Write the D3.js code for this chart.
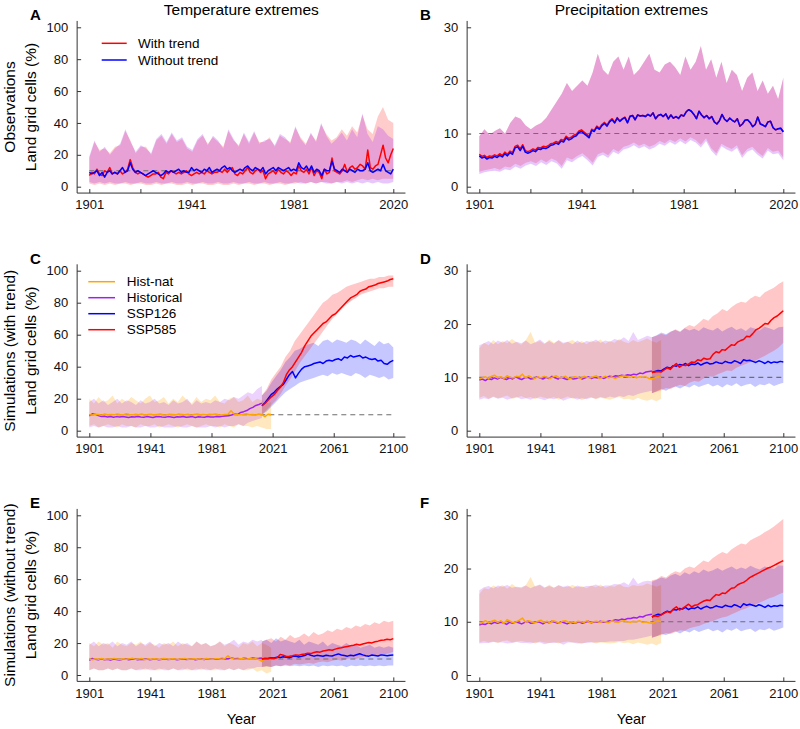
<!DOCTYPE html>
<html><head><meta charset="utf-8">
<script src="https://cdn.jsdelivr.net/npm/d3@7"></script>
<style>body{margin:0;background:#fff} text{font-family:"Liberation Sans", Arial, sans-serif;}</style>
</head><body><svg id="c" width="800" height="729"></svg>
<script>
// ---------- Tick labels ----------
const obsYearTicks = [1901, 1921, 1941, 1961, 1981, 2001, 2020];
const obsYearLabels = [1901, 1941, 1981, 2020];
const simYearTicks = [1901, 1941, 1981, 2021, 2061, 2100];
const tempTicks = [0, 20, 40, 60, 80, 100];
const precTicks = [0, 10, 20, 30];

// ---------- Panel A: observed temperature extremes (1901-2020) ----------
const tempObsWith = [7,9,8,11,8,7,10,9,12,8, 9,8,10,8,9,11,17,12,9,8, 9,8,7,6,7,8,8,9,6,5, 9,8,10,9,8,9,8,9,10,8,
  7,8,9,8,9,8,10,9,8,9, 9,10,9,11,9,11,12,8,7,9, 8,10,12,9,8,10,11,9,10,5, 8,9,10,8,11,9,8,10,9,7,
  9,8,13,10,9,11,8,12,7,10, 9,5,11,8,9,18,10,9,8,10, 14,9,12,13,11,12,14,13,11,23, 12,11,13,14,20,26,18,15,20,24];
const tempObsWithout = [9,8,9,10,7,9,6,9,10,8, 9,8,10,12,9,10,15,11,9,10, 9,8,7,8,9,10,9,8,7,8, 10,9,10,9,10,11,9,10,9,9,
  12,10,11,10,9,11,10,12,9,10, 11,10,12,13,11,12,10,9,10,11, 10,12,13,11,10,12,11,10,12,8, 10,11,12,10,12,11,10,11,12,10,
  11,10,15,12,11,13,10,13,9,11, 10,7,11,10,10,16,11,10,9,11, 10,9,11,10,9,11,10,10,11,15, 10,9,10,11,10,14,10,9,8,11];
const tempObsWithHi = [18,28,23,24,21,25,26,35,29,21, 25,25,20,29,32,27,33,28,30,24, 22,29,32,27,31,28,25,35,29,26,
  33,27,34,28,28,31,25,32,30,28, 37,31,27,33,29,39,33,29,31,36, 32,38,34,45,36,33,44,50,42,40];
const tempObsWithLo = [2,1,2,1,2,1,2,2,1,2, 2,1,1,2,1,2,2,1,1,2, 1,2,2,1,1,2,1,1,2,1,
  2,2,1,2,2,1,2,2,1,2, 2,3,2,3,2,3,3,2,3,3, 4,3,4,5,4,5,4,5,5,5];
const tempObsWithoutHi = [19,29,22,25,20,24,27,36,28,22, 26,24,21,30,33,28,34,29,31,25, 23,30,33,26,32,29,24,36,30,25,
  34,28,35,27,29,30,26,33,31,27, 38,30,26,34,28,40,32,27,30,34, 29,36,31,46,33,28,38,36,32,30];
const tempObsWithoutLo = [3,2,3,2,3,2,2,3,2,2, 3,2,2,3,2,2,3,2,2,3, 2,2,3,2,2,3,2,2,3,2,
  2,3,2,2,3,2,2,3,2,2, 3,2,2,3,2,3,2,2,3,2, 3,2,3,2,3,2,3,2,2,3];

// ---------- Panel B: observed precipitation extremes (1901-2020) ----------
const precObsWith = [6.1,5.7,5.9,5.5,5.8,5.7,6.0,5.8,6.2,5.9, 6.5,6.1,6.7,6.4,7.6,7.8,7.1,7.9,6.8,6.6,
  6.8,7.1,6.9,7.4,7.3,7.6,7.5,7.7,8.1,8.2, 8.5,8.3,8.9,8.7,9.5,9.1,9.3,9.7,9.9,10.5,
  10.7,10.3,9.9,9.5,10.8,10.6,11.4,11.0,11.7,12.1, 11.6,12.4,12.8,12.1,13.0,12.4,12.8,13.1,12.1,13.3,
  13.4,12.6,13.5,13.3,13.4,13.2,13.6,13.3,13.9,12.8, 13.4,13.6,13.2,13.7,12.7,13.5,12.9,13.2,12.8,13.5,
  13.3,14.1,14.5,14.2,13.6,12.8,14.2,13.5,13.0,13.4, 12.8,13.2,12.2,11.8,12.4,13.6,12.7,12.3,12.9,12.5,
  12.2,12.8,11.4,11.8,12.5,12.6,12.1,11.3,11.7,13.1, 11.8,11.6,11.3,12.2,12.3,11.1,10.7,10.9,11.0,10.4];
const precObsWithout = [5.8,5.4,5.6,5.2,5.5,5.4,5.7,5.5,5.9,5.6, 6.2,5.8,6.4,6.1,7.3,7.5,6.8,7.6,6.5,6.3,
  6.5,6.8,6.6,7.1,7.0,7.3,7.2,7.4,7.8,7.9, 8.2,8.0,8.6,8.4,9.2,8.8,9.0,9.4,9.6,10.2,
  10.4,10.0,9.6,9.2,10.6,10.4,11.2,10.8,11.5,11.9, 11.4,12.2,12.6,12.0,12.9,12.3,12.7,13.0,12.0,13.2,
  13.4,12.6,13.5,13.3,13.4,13.2,13.6,13.3,13.9,12.8, 13.4,13.6,13.2,13.7,12.8,13.5,12.9,13.2,12.9,13.5,
  13.3,14.1,14.5,14.2,13.6,12.8,14.2,13.5,13.0,13.4, 12.8,13.2,12.2,11.8,12.4,13.6,12.7,12.3,12.9,12.5,
  12.2,12.8,11.4,11.8,12.5,12.6,12.1,11.3,11.7,13.1, 11.8,11.6,11.3,12.2,12.3,11.1,10.7,10.9,11.0,10.3];
const precObsHi = [9.5,10.8,9.8,10.5,11,10,12,13.2,12.8,11.5, 10.8,11.5,12,13,14.5,16,17.5,19.5,18,19,
  20,19,21.5,25,22,21,23.5,24.5,22,24.5, 21,22,23.5,25,22,21.5,23,23.5,22.5,21,
  24.5,22,23.5,26.5,22,24,20.5,23.5,19.5,22, 21,18,20.5,21.5,18,20,17.5,19,16.5,20.5];
const precObsLo = [2.8,3.1,3.3,3.5,3.2,3.8,3.6,4.3,3.9,4.5, 4.8,4.4,5.1,4.6,5.3,4.9,3.9,5.5,5.1,5.8,
  6.3,5.5,4.5,6.1,6.5,5.9,7.1,6.6,7.5,7.8, 8.3,7.7,8.1,7.5,7.9,8.6,8.2,8.9,8.4,9.1,
  8.5,9.3,8.8,7.9,9.1,7.3,6.3,8.1,7.5,7.1, 7.8,5.9,7.1,7.5,6.5,5.8,7.3,6.6,6.8,5.5];
const precObsLo2 = [2.4,2.7,2.9,3.0,2.8,3.3,3.1,3.8,3.4,4.0, 4.3,3.9,4.6,4.1,4.8,4.4,3.4,5.0,4.6,5.3,
  5.8,5.0,4.0,5.6,6.0,5.4,6.6,6.1,7.0,7.3, 7.8,7.2,7.6,7.0,7.4,8.1,7.7,8.4,7.9,8.6,
  8.0,8.8,8.3,7.4,8.6,6.8,5.8,7.6,7.0,6.6, 7.3,5.4,6.6,7.0,6.0,5.3,6.8,6.1,6.3,5.0];

// ---------- Panel C: simulated temperature extremes, with trend ----------
const tempSimHistNat = [10,9.8,10.3,10.1,9.7,10.4,10,10.2,9.9,10.5, 10.1,9.8,10.6,10.2,9.9,10.3,10,10.4,9.8,10.1,
  10.3,9.9,10.2,10.5,10,9.8,10.3,10.1,9.9,10.4, 10.2,10,10.3,9.7,10.1,10.4,10,10.2,9.9,10.3,
  10.1,10.5,10,9.8,10.2,10.3,12.5,10.4,10.1,9.9, 10.3,10.6,10,10.2,9.8,10.4,10.1,8.8,10.3,10.2];
const tempSimHist = [9.2,10.6,10.2,9.4,8.8,9.0,8.6,8.9,8.4,8.8, 8.5,8.9,8.6,8.3,8.7,8.5,8.9,8.6,8.4,8.8,
  8.6,8.3,8.7,8.9,8.5,8.4,8.8,8.6,8.3,8.7, 8.5,8.9,8.4,8.6,8.8,8.3,8.7,8.5,8.4,8.9,
  8.6,8.5,8.8,8.7,9.0,9.2,9.4,9.8,10.6,10.2, 11.4,11.9,12.6,13.8,14.6,15.8,16.4,17.2];
const tempSimSsp585 = [15.6,17,19,21,22.5,25,27,30,35,38, 40,43,46,49,53,56,59,61,63,65,
  67,68,70,72,73,75,77,79,81,83, 84,85,87,88,88.5,90,90.5,91,92,92.5, 93,93.5,94.5,95];
const tempSimSsp126 = [15.6,17.5,20,22.5,24,26,27.5,29,32,35, 37,33,36,38.5,40,40.5,41,42,42.5,43,
  42,43.5,44,43.5,44.5,45,44,46,45.5,47, 46,46.5,47,45.5,46,45,44.5,45,43.5,44, 42,41.5,43,44];
const tempSimHistNatHi = [20,17,21,18,19,22,17,20,18,21, 19,17,20,22,18,19,21,17,20,18,
  22,19,17,21,18,20,19,22,18,17, 20,21,18,19,22,18,20,19,17,18];
const tempSimHistNatLo = [3,4,2,3,4,3,2,4,3,3, 2,4,3,3,4,2,3,4,3,2, 3,4,3,2,3,4,3,3,2,4, 3,2,4,3,3,2,3,2,1,1];
const tempSimHistHi = [18,20,17,19,16,18,20,17,19,18, 16,19,17,18,20,17,18,16,19,17,
  18,20,16,19,17,18,17,19,18,20, 19,21,20,22,24,23,26,28];
const tempSimHistLo = [2,3,2,3,2,2,3,2,2,3, 2,2,3,2,2,3,2,2,2,3, 2,2,3,2,2,2,3,2,3,2, 3,3,4,3,5,6,7,8];
const tempSimSsp585Hi = [22,26,32,36,40,46,50,56,60,64,68,72,76,80,82,85,86,88,90,91,92,93,94,95,95,96,96,97,97];
const tempSimSsp585Lo = [10,13,16,19,23,28,32,37,42,46,50,54,58,62,66,70,73,76,79,81,83,85,86,87,88,89,89,90,90];
const tempSimSsp126Hi = [22,25,30,34,38,43,46,50,51,53,54,55,53,56,57,55,57,56,55,57,56,54,57,55,53,56,54,55,52];
const tempSimSsp126Lo = [10,12,15,18,21,24,26,28,30,31,32,33,34,35,34,36,35,36,35,34,36,35,33,35,34,33,34,32,33];

// ---------- Panel D: simulated precipitation extremes, with trend ----------
const precSimHistNat = [9.7,9.9,10.1,9.8,10.2,10.4,9.9,10.1,9.8,10.3, 10.0,9.9,10.2,10.1,10.6,9.9,10.3,10.0,9.8,10.1,
  9.9,10.2,10.0,9.8,10.1,10.3,9.9,10.0,10.2,9.7, 9.9,10.1,10.0,9.8,10.2,10.0,9.9,10.1,10.3,9.8,
  10.0,10.2,9.9,10.1,9.8,10.0,10.2,10.3,10.1,10.0, 10.2,9.9,10.1,10.0,10.1,9.8,9.7,9.9,10.1,10.0];
const precSimHist = [9.5,9.7,9.4,9.8,9.6,9.9,9.7,10.0,9.8,9.6, 9.9,9.7,10.1,9.8,9.6,9.9,10.0,9.7,9.8,10.1,
  9.9,9.7,10.0,9.8,10.2,9.9,9.7,10.0,9.8,9.6, 9.9,9.7,9.8,10.0,9.7,9.9,10.1,9.8,10.0,9.9,
  10.1,9.8,10.0,10.2,10.1,10.3,10.2,10.4,10.3,10.5, 10.4,10.6,10.5,10.8,10.7,11.0,11.1,11.2];
const precSimSsp585 = [10.9,11.0,11.1,11.0,11.4,11.8,11.5,12.1,12.6,11.9, 12.3,12.2,12.5,12.9,12.8,13.3,13.1,13.6,13.4,13.5,
  14.3,14.8,14.6,15.2,15.1,15.6,16.1,16.0,16.6,16.9, 17.1,17.7,17.6,18.2,18.9,19.2,19.6,20.1,20.0,20.7, 21.2,21.5,22.0,22.5];
const precSimSsp126 = [10.9,11.1,11.3,11.2,11.6,11.9,11.7,12.2,12.1,12.4, 12.3,12.6,12.2,12.5,12.4,12.7,12.3,12.6,12.8,12.5,
  12.6,12.9,12.7,12.6,13.0,12.8,12.7,13.1,12.9,12.6, 13.3,13.1,13.2,13.0,12.8,13.1,12.9,12.6,13.0,12.7, 12.9,12.8,13.0,12.9];
const precSimHistNatHi = [15.5,16.5,16,17,16.2,16.8,16.4,17.2,16.6,16.1, 17,18.5,16.5,16.8,16.2,17.1,16.5,16.9,16.3,16.7,
  17,16.4,16.8,16.2,16.9,16.6,17.1,16.3,16.8,16.5, 17.2,16.7,16.4,17,16.6,16.9,17.3,16.8,16.5,17];
const precSimHistNatLo = [6.2,6.5,6,6.4,6.1,6.3,6.6,6,6.2,6.5, 6.1,6.3,5.9,6.4,6.2,6,6.3,5.8,6.1,6.4,
  6,6.2,5.7,6.1,6.3,5.9,6.2,6,5.8,6.1, 6.3,5.9,6,5.7,6.2,5.8,5.6,5.9,5.5,6];
const precSimHistHi = [16,16.4,16.8,16.2,16.9,16.5,17,16.3,16.7,16.4, 16.9,16.2,16.6,17.1,16.4,16.8,16.3,17,16.5,16.7,
  16.2,16.9,16.4,16.8,16.6,17.1,16.5,16.9,16.7,17.2, 16.9,17.5,16.8,18.5,17,17.4,17.8,17.5];
const precSimHistLo = [5.8,6.1,5.9,6.3,6,6.2,5.8,6.1,6.3,5.9, 6.1,5.8,6.2,6,5.7,6.1,5.9,6.2,5.6,6,
  6.2,5.8,6.1,5.9,6.2,6,6.3,6.1,6.4,6.2, 6.5,6.3,6.7,6.5,6.9,7.1,7.3,7.5];
const precSimSsp585Hi = [17.5,17.8,18.2,17.9,18.5,19,18.6,19.3,19.8,19.5,20.2,21,20.6,21.5,22,22.8,22.4,23.2,23.8,24.2,24,24.8,25.3,25,25.9,26.4,26.8,27.5,28];
const precSimSsp585Lo = [7,7.3,7.6,8,7.8,8.3,8.6,8.4,9,9.3,9.2,9.8,10.2,10.1,10.6,10.9,11.3,11.2,11.8,12.2,12.5,12.9,13.1,13.6,14,14.5,15,15.6,16.5];
const precSimSsp126Hi = [17.5,17.9,18.4,18.1,18.6,18.9,18.5,19.2,18.8,19.1,18.7,19.4,19,18.8,19.3,18.6,19.1,19.5,18.9,19.2,18.7,19.4,19.1,18.8,19.5,19.2,18.9,19.4,19.5];
const precSimSsp126Lo = [7,7.4,7.8,7.5,8,8.3,7.9,8.4,8.1,8.6,8.2,8.5,8.8,8.3,8.6,8.1,8.7,8.4,8.9,8.3,8.6,8.8,8.2,8.7,8.5,8.9,8.4,8.7,9];

// ---------- Panel E: simulated temperature extremes, without trend ----------
const tempDetHistNat = [10,9.6,10.2,9.9,10.3,9.7,10.1,9.8,10.4,10, 9.7,10.2,9.9,10.1,10.5,9.8,10,10.3,9.6,10.1,
  9.9,10.2,10,9.7,10.3,10.1,9.8,10.2,10,9.9, 10.1,10.4,9.8,10,10.2,9.9,10.1,9.7,10.3,10,
  9.8,10.2,10.1,9.9,10.3,12,10.5,10,9.8,10.2, 10.1,9.9,10.3,10,10.2,9.7,8.6,10.1,10,10.2];
const tempDetHist = [9.2,10.4,9.8,9.5,10.1,9.6,9.9,9.3,10,9.7, 9.4,9.9,10.2,9.6,9.8,10,9.5,9.9,9.7,10.1,
  9.6,9.8,10,9.5,9.9,10.2,9.7,9.8,10,9.6, 9.9,10.1,9.7,9.8,10.2,9.6,9.9,10,9.7,10.1,
  9.8,10,9.9,10.2,10.4,10.1,10.3,10.6,10.2,10.4, 10.1,10.5,10.3,10.2,10.6,10.4,10.5,10.7];
const tempDetSsp585 = [10.1,10.3,10.2,10.6,10.4,10.8,12.9,12.4,11.6,11.8, 12.1,12.6,12.3,12.9,13.2,13.6,13.4,14.1,14.5,14.3,
  15,15.4,15.8,15.5,16.2,16.8,17.1,17.5,17.9,18.3, 18.6,19.2,18.8,19.4,19.9,20.3,20.1,20.8,21.2,21.7, 21.9,22.4,22.1,22.8];
const tempDetSsp126 = [10.1,10.4,10.3,10.8,10.6,11.2,10.9,11.4,11.1,10.8, 11.5,11.9,11.3,11.7,12.2,13.1,12.4,11.8,12.3,12.0,
  11.7,12.4,12.1,11.9,12.6,13.2,12.5,12.2,11.8,12.4, 12.1,12.7,13.3,12.6,12.1,11.8,12.5,12.2,11.9,12.6, 12.3,12.0,12.4,12.5];
const tempDetHistNatHi = [20,18,21,19,20,17,21,19,18,20, 19,21,18,20,19,17,20,19,21,18,
  20,19,18,21,19,20,18,19,21,18, 20,19,17,20,19,21,18,20,19,17];
const tempDetHistNatLo = [3,4,3,3,4,3,4,3,3,4, 3,4,3,4,3,3,4,3,4,3, 4,3,3,4,3,4,3,3,4,3, 4,3,4,3,3,4,2,3,1,2];
const tempDetHistHi = [19,21,18,20,19,21,18,20,19,21, 18,20,19,21,18,20,19,20,18,21,
  19,20,18,21,19,20,18,19,21,19, 20,22,19,21,20,22,21,22];
const tempDetHistLo = [3,4,3,3,4,3,4,3,3,4, 3,3,4,3,3,4,3,3,4,3, 3,4,3,3,4,3,3,4,3,3, 4,3,4,3,4,4,5,5];
const tempDetSsp585Hi = [21,22,23,21,24,22,25,23,24,26,24,27,25,26,28,27,29,28,30,29,31,30,32,31,33,32,34,33,34];
const tempDetSsp585Lo = [5,5.5,5,6,5.5,6.5,6,7,6.5,7,7.5,7,8,8.5,8,9,9.5,9,10,10.5,10,11,11.5,12,12.5,12,13,13.5,14.5];
const tempDetSsp126Hi = [21,22,20,23,21,22,21,20,22,19,21,20,19,21,18,20,19,18,20,18,19,17,18,19,17,18,17,18,17];
const tempDetSsp126Lo = [5,5.5,5,6,5.5,6,5.5,6,5.5,6,5.5,6,5,6,5.5,6,5.5,6,5,6,5.5,6,5.5,6,5.5,6,5.5,6,6];

// ---------- Panel F: simulated precipitation extremes, without trend ----------
const precDetHistNat = [9.6,9.9,10.2,9.8,10.1,10.3,9.9,10.2,9.7,10.4, 10.1,9.8,10.0,10.3,10.7,9.9,10.2,10.0,9.8,10.1,
  10.3,9.9,10.1,9.8,10.2,10.0,9.7,10.1,10.2,9.9, 10.0,9.8,10.1,10.0,9.9,10.2,9.8,10.0,10.1,9.9,
  10.1,10.0,9.8,10.2,10.0,9.9,10.1,10.2,10.0,9.9, 10.1,10.0,10.2,9.9,10.0,9.8,9.7,10.0,10.2,10.0];
const precDetHist = [9.4,9.6,9.5,9.8,9.6,9.9,9.7,9.9,9.8,9.5, 9.9,9.7,10.0,9.8,9.6,9.9,10.1,9.7,9.8,10.0,
  9.9,9.6,10.0,9.8,10.1,9.9,9.7,10.0,9.8,9.6, 9.9,9.7,9.8,10.0,9.7,9.9,10.1,9.8,10.0,9.9,
  10.1,9.9,10.0,10.2,10.2,10.4,10.3,10.5,10.4,10.6, 10.6,10.8,10.7,11.0,10.9,11.2,11.3,11.4];
const precDetSsp585 = [10.9,11.1,11.0,11.3,11.6,11.9,11.7,12.4,12.8,12.2, 12.5,12.9,13.3,12.8,13.1,13.2,13.6,13.9,14.1,14.0,
  14.6,15.1,15.0,15.4,15.3,15.8,16.3,16.4,16.9,17.2, 17.4,17.8,18.3,18.6,18.9,19.2,19.5,19.8,20.1,20.3, 20.6,20.9,21.2,21.5];
const precDetSsp126 = [10.9,11.2,11.4,11.3,11.7,12.0,11.8,12.3,12.2,12.5, 12.4,12.7,12.3,12.6,12.5,12.8,12.4,12.7,12.9,12.6,
  12.7,13.0,12.8,12.7,13.1,12.9,12.8,13.2,13.0,12.7, 13.4,13.1,13.3,13.1,12.9,13.2,13.0,12.7,13.1,12.8, 13.0,12.9,13.1,13.0];
const precDetHistNatHi = [15.2,16.3,16.1,16.8,16.4,16.9,16.2,17.1,16.5,16.3, 16.9,18.4,16.6,16.9,16.3,17,16.4,16.8,16.5,16.6,
  16.9,16.5,16.7,16.3,16.8,16.5,17,16.4,16.7,16.6, 17.1,16.6,16.5,16.9,16.7,16.8,17.2,16.9,16.6,16.9];
const precDetHistNatLo = [6.1,6.4,6.1,6.3,6,6.4,6.5,6.1,6.3,6.4, 6.2,6.2,5.9,6.3,6.1,6,6.2,5.9,6.2,6.3,
  6.1,6.1,5.8,6.2,6.2,5.9,6.1,6,5.9,6, 6.2,6,6.1,5.8,6.1,5.9,5.7,5.9,5.6,6];
const precDetHistHi = [15.9,16.5,16.7,16.3,16.8,16.6,16.9,16.4,16.6,16.5, 16.8,16.3,16.7,17,16.5,16.7,16.4,16.9,16.6,16.8,
  16.3,16.8,16.5,16.7,16.7,17,16.6,16.8,16.8,17.1, 17,17.4,16.9,18.3,17.1,17.5,17.7,17.6];
const precDetHistLo = [5.9,6,6,6.2,6.1,6.1,5.9,6,6.2,6, 6,5.9,6.1,6.1,5.8,6,6,6.1,5.7,6.1,
  6.1,5.9,6,6,6.1,6.1,6.2,6.2,6.3,6.3, 6.4,6.4,6.6,6.6,6.8,7,7.2,7.4];
const precDetSsp585Hi = [17.8,18,18.6,18.3,19,19.5,19.2,20,20.4,20.1,20.8,21.5,21.2,22,22.6,23.1,22.8,23.6,24.2,24.7,24.5,25.3,25.8,26.2,26.8,27.3,27.9,28.6,29.3];
const precDetSsp585Lo = [7,7.3,7.5,7.9,7.7,8.1,8.4,8.3,8.8,9,9.2,9.6,9.9,10.1,10.5,10.8,11,11.4,11.8,12.2,12.5,12.9,13.2,13.6,14,14.4,14.7,15.1,15.5];
const precDetSsp126Hi = [17.5,17.9,18.3,18.1,18.7,19,18.6,19.3,18.9,19.5,19.1,19.8,19.4,19.7,20.1,19.6,20,20.4,19.8,20.2,19.9,20.5,20.1,19.8,20.4,20.2,19.9,20.6,20.5];
const precDetSsp126Lo = [7,7.3,7.7,7.5,7.9,8.2,7.8,8.3,8,8.5,8.1,8.4,8.7,8.2,8.5,8,8.6,8.3,8.8,8.2,8.5,8.7,8.1,8.6,8.4,8.8,8.3,8.6,8.9];

// ---------- Drawing ----------
const svg = d3.select("#c");
const COL = {red:"#ff0000", blue:"#0000ff", orange:"#ffa500", purple:"#a020f0"};
const cols = [{x0:89.3, x1:393.3}, {x0:479.3, x1:783.3}];
const rows = [{y0:186.7, y1:27.3}, {y0:430.7, y1:270.7}, {y0:675, y1:515.3}];

function pts(vals, start, end){
  const n = vals.length;
  return vals.map((v,i)=>({yr: start + i*(end-start)/(n-1), v}));
}
function bandPts(lo, hi, start, end){
  const n = Math.min(lo.length, hi.length);
  return d3.range(n).map(i=>({yr: start + i*(end-start)/(n-1), lo: lo[i], hi: hi[i]}));
}

function panel(o){
  const c = cols[o.col], r = rows[o.row];
  const x = d3.scaleLinear().domain([1901, o.endYear]).range([c.x0, c.x1]);
  const y = d3.scaleLinear().domain([0, o.ymax]).range([r.y0, r.y1]);
  const xp = 0.04*(c.x1-c.x0), yp = 0.04*(r.y0-r.y1);
  const g = svg.append("g");
  const area = d3.area().x(d=>x(d.yr)).y0(d=>y(d.lo)).y1(d=>y(d.hi));
  const line = d3.line().x(d=>x(d.yr)).y(d=>y(d.v));
  o.bands.forEach(b=>{
    g.append("path").attr("d", area(bandPts(b.lo, b.hi, b.start, b.end)))
      .attr("fill", b.color).attr("fill-opacity", b.alpha).attr("stroke","none");
  });
  g.append("line").attr("x1", x(1901)).attr("x2", x(o.endYear)).attr("y1", y(10)).attr("y2", y(10))
    .attr("stroke","#6e6e6e").attr("stroke-width",1.1).attr("stroke-dasharray","5,4");
  o.lines.forEach(l=>{
    g.append("path").attr("d", line(pts(l.vals, l.start, l.end)))
      .attr("fill","none").attr("stroke", l.color).attr("stroke-width",1.5).attr("stroke-linejoin","round");
  });
  // axes
  const axX = c.x0 - xp, axY = r.y0 + yp;
  g.append("line").attr("x1",axX).attr("x2",axX).attr("y1",axY).attr("y2",r.y1-yp).attr("stroke","#333");
  g.append("line").attr("x1",axX).attr("x2",c.x1+xp).attr("y1",axY).attr("y2",axY).attr("stroke","#333");
  const ya = g.append("g").attr("transform",`translate(${axX},0)`)
    .call(d3.axisLeft(y).tickValues(o.yTicks).tickSizeInner(-4).tickSizeOuter(0).tickPadding(9));
  const xa = g.append("g").attr("transform",`translate(0,${axY})`)
    .call(d3.axisBottom(x).tickValues(o.xTicks).tickSizeInner(-4).tickSizeOuter(0).tickPadding(7)
      .tickFormat(d=> o.xLabels.includes(d) ? String(d) : ""));
  [ya, xa].forEach(a=>{
    a.select(".domain").remove();
    a.selectAll("line").attr("stroke","#333");
    a.selectAll("text").attr("font-size","13px").attr("fill","#111")
      .style("font-family",'"Liberation Sans", Arial, sans-serif');
  });
  // panel letter
  g.append("text").attr("x", o.col===0 ? 30 : 420).attr("y", r.y1 - 7)
    .attr("font-size","15px").attr("font-weight","bold").text(o.letter);
  return {x, y};
}

const obsBandsT = [
  {lo: tempObsWithLo, hi: tempObsWithHi, start:1901, end:2020, color:COL.red, alpha:0.2},
  {lo: tempObsWithoutLo, hi: tempObsWithoutHi, start:1901, end:2020, color:COL.purple, alpha:0.25}
];
panel({col:0,row:0,endYear:2020,ymax:100,yTicks:tempTicks,xTicks:obsYearTicks,xLabels:obsYearLabels,letter:"A",
  bands: obsBandsT,
  lines: [{vals:tempObsWith,start:1901,end:2020,color:COL.red},{vals:tempObsWithout,start:1901,end:2020,color:COL.blue}]});
panel({col:1,row:0,endYear:2020,ymax:30,yTicks:precTicks,xTicks:obsYearTicks,xLabels:obsYearLabels,letter:"B",
  bands: [{lo: precObsLo, hi: precObsHi, start:1901, end:2020, color:COL.red, alpha:0.2},
          {lo: precObsLo2, hi: precObsHi, start:1901, end:2020, color:COL.purple, alpha:0.25}],
  lines: [{vals:precObsWith,start:1901,end:2020,color:COL.red},{vals:precObsWithout,start:1901,end:2020,color:COL.blue}]});

function simPanel(col,row,ymax,yTicks,letter,d){
  panel({col,row,endYear:2100,ymax,yTicks,xTicks:simYearTicks,xLabels:simYearTicks,letter,
    bands:[
      {lo:d.hnLo, hi:d.hnHi, start:1901, end:2020, color:COL.orange, alpha:0.25},
      {lo:d.hLo, hi:d.hHi, start:1901, end:2014, color:COL.purple, alpha:0.2},
      {lo:d.s1Lo, hi:d.s1Hi, start:2014, end:2100, color:COL.blue, alpha:0.22},
      {lo:d.s5Lo, hi:d.s5Hi, start:2014, end:2100, color:COL.red, alpha:0.22}
    ],
    lines:[
      {vals:d.h, start:1901, end:2014, color:COL.purple},
      {vals:d.hn, start:1901, end:2020, color:COL.orange},
      {vals:d.s1, start:2014, end:2100, color:COL.blue},
      {vals:d.s5, start:2014, end:2100, color:COL.red}
    ]});
}
simPanel(0,1,100,tempTicks,"C",{hn:tempSimHistNat,h:tempSimHist,s1:tempSimSsp126,s5:tempSimSsp585,
  hnLo:tempSimHistNatLo,hnHi:tempSimHistNatHi,hLo:tempSimHistLo,hHi:tempSimHistHi,
  s1Lo:tempSimSsp126Lo,s1Hi:tempSimSsp126Hi,s5Lo:tempSimSsp585Lo,s5Hi:tempSimSsp585Hi});
simPanel(1,1,30,precTicks,"D",{hn:precSimHistNat,h:precSimHist,s1:precSimSsp126,s5:precSimSsp585,
  hnLo:precSimHistNatLo,hnHi:precSimHistNatHi,hLo:precSimHistLo,hHi:precSimHistHi,
  s1Lo:precSimSsp126Lo,s1Hi:precSimSsp126Hi,s5Lo:precSimSsp585Lo,s5Hi:precSimSsp585Hi});
simPanel(0,2,100,tempTicks,"E",{hn:tempDetHistNat,h:tempDetHist,s1:tempDetSsp126,s5:tempDetSsp585,
  hnLo:tempDetHistNatLo,hnHi:tempDetHistNatHi,hLo:tempDetHistLo,hHi:tempDetHistHi,
  s1Lo:tempDetSsp126Lo,s1Hi:tempDetSsp126Hi,s5Lo:tempDetSsp585Lo,s5Hi:tempDetSsp585Hi});
simPanel(1,2,30,precTicks,"F",{hn:precDetHistNat,h:precDetHist,s1:precDetSsp126,s5:precDetSsp585,
  hnLo:precDetHistNatLo,hnHi:precDetHistNatHi,hLo:precDetHistLo,hHi:precDetHistHi,
  s1Lo:precDetSsp126Lo,s1Hi:precDetSsp126Hi,s5Lo:precDetSsp585Lo,s5Hi:precDetSsp585Hi});

// titles
svg.append("text").attr("x",241.3).attr("y",15).attr("text-anchor","middle").attr("font-size","15.5px").text("Temperature extremes");
svg.append("text").attr("x",631.3).attr("y",15).attr("text-anchor","middle").attr("font-size","15.5px").text("Precipitation extremes");
svg.append("text").attr("x",241.3).attr("y",724).attr("text-anchor","middle").attr("font-size","14.5px").text("Year");
svg.append("text").attr("x",631.3).attr("y",724).attr("text-anchor","middle").attr("font-size","14.5px").text("Year");

// y-axis titles
const yTitles = [["Observations", rows[0]], ["Simulations (with trend)", rows[1]], ["Simulations (without trend)", rows[2]]];
yTitles.forEach(([t, r])=>{
  const cy = (r.y0 + r.y1)/2;
  svg.append("text").attr("transform",`translate(15,${cy}) rotate(-90)`).attr("text-anchor","middle").attr("font-size","15.5px").text(t);
  svg.append("text").attr("transform",`translate(36,${cy}) rotate(-90)`).attr("text-anchor","middle").attr("font-size","15.5px").text("Land grid cells (%)");
});

// legends
const legA = [["With trend", COL.red], ["Without trend", COL.blue]];
legA.forEach(([t,cl],i)=>{
  const yy = 43.3 + i*16.7;
  svg.append("line").attr("x1",101.7).attr("x2",126.7).attr("y1",yy).attr("y2",yy).attr("stroke",cl).attr("stroke-width",1.5);
  svg.append("text").attr("x",138).attr("y",yy).attr("dy","0.35em").attr("font-size","13.5px").text(t);
});
const legC = [["Hist-nat", COL.orange], ["Historical", COL.purple], ["SSP126", COL.blue], ["SSP585", COL.red]];
legC.forEach(([t,cl],i)=>{
  const yy = 281.7 + i*16;
  svg.append("line").attr("x1",88.3).attr("x2",115).attr("y1",yy).attr("y2",yy).attr("stroke",cl).attr("stroke-width",1.5);
  svg.append("text").attr("x",126.7).attr("y",yy).attr("dy","0.35em").attr("font-size","13.5px").text(t);
});
</script>
</body></html>
